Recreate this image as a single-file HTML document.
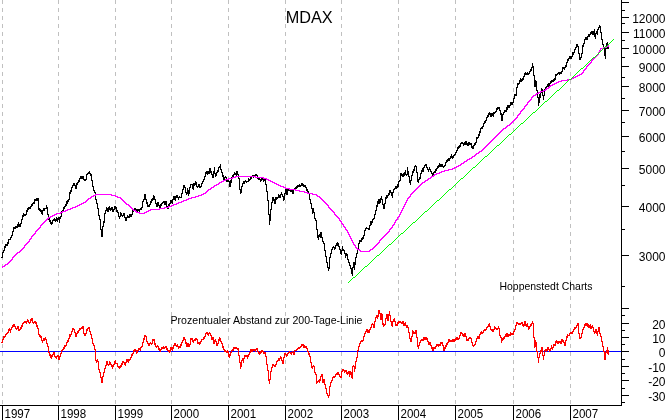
<!DOCTYPE html>
<html><head><meta charset="utf-8"><title>MDAX</title>
<style>
html,body{margin:0;padding:0;background:#fff;overflow:hidden}
svg{display:block}
text{font-family:"Liberation Sans",Arial,sans-serif;fill:#000}
.ax{font-size:12px}
.yr{font-size:12px}
.sm{font-size:11px}
</style></head><body>
<svg width="669" height="420" viewBox="0 0 669 420">
<rect width="669" height="420" fill="#fff"/>
<g stroke="#c0c0c0" stroke-width="1" stroke-dasharray="4 4" shape-rendering="crispEdges"><line x1="2.5" y1="0" x2="2.5" y2="405"/><line x1="58.5" y1="0" x2="58.5" y2="405"/><line x1="115.5" y1="0" x2="115.5" y2="405"/><line x1="171.5" y1="0" x2="171.5" y2="405"/><line x1="228.5" y1="0" x2="228.5" y2="405"/><line x1="285.5" y1="0" x2="285.5" y2="405"/><line x1="341.5" y1="0" x2="341.5" y2="405"/><line x1="398.5" y1="0" x2="398.5" y2="405"/><line x1="455.5" y1="0" x2="455.5" y2="405"/><line x1="513.5" y1="0" x2="513.5" y2="405"/><line x1="570.5" y1="0" x2="570.5" y2="405"/></g>
<path fill="#000" shape-rendering="crispEdges" d="M1 257h1v1h-1zM2 252h1v6h-1zM3 250h1v3h-1zM4 246h1v5h-1zM5 244h1v4h-1zM6 244h1v2h-1zM7 242h1v4h-1zM8 239h1v5h-1zM9 239h1v1h-1zM10 237h1v3h-1zM11 235h1v3h-1zM12 231h1v5h-1zM13 227h1v5h-1zM14 227h1v2h-1zM15 226h1v3h-1zM16 226h1v2h-1zM17 224h1v4h-1zM18 222h1v5h-1zM19 224h1v3h-1zM20 223h1v4h-1zM21 219h1v5h-1zM22 215h1v5h-1zM23 213h1v4h-1zM24 214h1v2h-1zM25 214h1v2h-1zM26 210h1v5h-1zM27 208h1v4h-1zM28 207h1v3h-1zM29 207h1v2h-1zM30 206h1v3h-1zM31 204h1v3h-1zM32 203h1v3h-1zM33 202h1v2h-1zM34 199h1v5h-1zM35 199h1v2h-1zM36 198h1v3h-1zM37 198h1v3h-1zM38 198h1v12h-1zM39 208h1v3h-1zM40 209h1v3h-1zM41 210h1v4h-1zM42 210h1v5h-1zM43 208h1v3h-1zM44 208h1v3h-1zM45 208h1v1h-1zM46 205h1v4h-1zM47 207h1v8h-1zM48 214h1v6h-1zM49 218h1v4h-1zM50 220h1v4h-1zM51 222h1v3h-1zM52 220h1v4h-1zM53 219h1v2h-1zM54 218h1v3h-1zM55 219h1v3h-1zM56 217h1v4h-1zM57 218h1v4h-1zM58 217h1v3h-1zM59 217h1v6h-1zM60 216h1v3h-1zM61 211h1v6h-1zM62 210h1v2h-1zM63 207h1v4h-1zM64 206h1v3h-1zM65 204h1v3h-1zM66 201h1v5h-1zM67 200h1v4h-1zM68 199h1v3h-1zM69 192h1v8h-1zM70 190h1v4h-1zM71 187h1v5h-1zM72 185h1v3h-1zM73 183h1v3h-1zM74 183h1v3h-1zM75 185h1v4h-1zM76 183h1v6h-1zM77 182h1v3h-1zM78 180h1v3h-1zM79 178h1v4h-1zM80 176h1v3h-1zM81 176h1v3h-1zM82 176h1v3h-1zM83 176h1v4h-1zM84 179h1v2h-1zM85 179h1v2h-1zM86 174h1v6h-1zM87 173h1v2h-1zM88 172h1v2h-1zM89 171h1v3h-1zM90 173h1v3h-1zM91 174h1v7h-1zM92 180h1v7h-1zM93 186h1v5h-1zM94 190h1v3h-1zM95 192h1v8h-1zM96 199h1v5h-1zM97 203h1v6h-1zM98 208h1v8h-1zM99 215h1v5h-1zM100 219h1v11h-1zM101 229h1v8h-1zM102 226h1v11h-1zM103 221h1v6h-1zM104 213h1v10h-1zM105 210h1v4h-1zM106 207h1v4h-1zM107 208h1v4h-1zM108 207h1v5h-1zM109 206h1v4h-1zM110 208h1v3h-1zM111 207h1v3h-1zM112 207h1v5h-1zM113 209h1v3h-1zM114 206h1v4h-1zM115 206h1v3h-1zM116 207h1v5h-1zM117 210h1v3h-1zM118 212h1v5h-1zM119 216h1v3h-1zM120 212h1v5h-1zM121 213h1v3h-1zM122 215h1v2h-1zM123 213h1v3h-1zM124 213h1v5h-1zM125 217h1v4h-1zM126 217h1v4h-1zM127 215h1v3h-1zM128 216h1v2h-1zM129 214h1v4h-1zM130 214h1v3h-1zM131 214h1v3h-1zM132 210h1v5h-1zM133 209h1v3h-1zM134 208h1v3h-1zM135 208h1v3h-1zM136 209h1v3h-1zM137 209h1v3h-1zM138 209h1v2h-1zM139 209h1v3h-1zM140 208h1v2h-1zM141 207h1v3h-1zM142 201h1v7h-1zM143 199h1v3h-1zM144 194h1v6h-1zM145 194h1v6h-1zM146 199h1v5h-1zM147 202h1v5h-1zM148 205h1v2h-1zM149 204h1v3h-1zM150 201h1v4h-1zM151 199h1v4h-1zM152 198h1v3h-1zM153 195h1v5h-1zM154 196h1v4h-1zM155 199h1v5h-1zM156 203h1v4h-1zM157 202h1v5h-1zM158 202h1v4h-1zM159 205h1v3h-1zM160 204h1v4h-1zM161 203h1v3h-1zM162 202h1v2h-1zM163 201h1v2h-1zM164 201h1v4h-1zM165 201h1v4h-1zM166 201h1v6h-1zM167 206h1v3h-1zM168 204h1v5h-1zM169 203h1v4h-1zM170 200h1v4h-1zM171 200h1v3h-1zM172 199h1v5h-1zM173 196h1v4h-1zM174 196h1v4h-1zM175 196h1v5h-1zM176 195h1v3h-1zM177 195h1v3h-1zM178 197h1v3h-1zM179 196h1v2h-1zM180 197h1v1h-1zM181 193h1v5h-1zM182 189h1v5h-1zM183 185h1v5h-1zM184 185h1v3h-1zM185 187h1v6h-1zM186 192h1v3h-1zM187 188h1v6h-1zM188 190h1v6h-1zM189 187h1v7h-1zM190 184h1v4h-1zM191 184h1v1h-1zM192 184h1v5h-1zM193 183h1v7h-1zM194 183h1v3h-1zM195 181h1v4h-1zM196 182h1v5h-1zM197 186h1v2h-1zM198 184h1v3h-1zM199 184h1v4h-1zM200 186h1v2h-1zM201 183h1v4h-1zM202 181h1v3h-1zM203 179h1v3h-1zM204 176h1v4h-1zM205 172h1v5h-1zM206 171h1v3h-1zM207 171h1v4h-1zM208 171h1v3h-1zM209 168h1v6h-1zM210 168h1v5h-1zM211 171h1v4h-1zM212 174h1v4h-1zM213 171h1v7h-1zM214 167h1v7h-1zM215 173h1v4h-1zM216 172h1v4h-1zM217 170h1v3h-1zM218 167h1v5h-1zM219 166h1v2h-1zM220 164h1v6h-1zM221 169h1v4h-1zM222 172h1v5h-1zM223 175h1v5h-1zM224 177h1v3h-1zM225 176h1v2h-1zM226 177h1v5h-1zM227 180h1v2h-1zM228 178h1v4h-1zM229 181h1v6h-1zM230 180h1v7h-1zM231 177h1v6h-1zM232 175h1v3h-1zM233 174h1v3h-1zM234 172h1v3h-1zM235 173h1v2h-1zM236 171h1v5h-1zM237 171h1v4h-1zM238 174h1v5h-1zM239 178h1v12h-1zM240 189h1v5h-1zM241 186h1v7h-1zM242 183h1v4h-1zM243 181h1v3h-1zM244 181h1v3h-1zM245 180h1v2h-1zM246 181h1v2h-1zM247 181h1v1h-1zM248 178h1v4h-1zM249 179h1v2h-1zM250 177h1v3h-1zM251 176h1v3h-1zM252 175h1v2h-1zM253 175h1v3h-1zM254 175h1v2h-1zM255 174h1v3h-1zM256 174h1v2h-1zM257 175h1v4h-1zM258 177h1v3h-1zM259 178h1v2h-1zM260 179h1v3h-1zM261 177h1v4h-1zM262 177h1v3h-1zM263 178h1v4h-1zM264 179h1v2h-1zM265 178h1v7h-1zM266 184h1v8h-1zM267 191h1v10h-1zM268 200h1v15h-1zM269 214h1v11h-1zM270 209h1v12h-1zM271 202h1v8h-1zM272 197h1v6h-1zM273 197h1v4h-1zM274 199h1v5h-1zM275 197h1v7h-1zM276 197h1v3h-1zM277 197h1v2h-1zM278 194h1v4h-1zM279 195h1v3h-1zM280 194h1v4h-1zM281 192h1v3h-1zM282 194h1v3h-1zM283 196h1v5h-1zM284 193h1v7h-1zM285 189h1v5h-1zM286 189h1v6h-1zM287 189h1v6h-1zM288 189h1v2h-1zM289 188h1v3h-1zM290 190h1v2h-1zM291 189h1v3h-1zM292 190h1v4h-1zM293 189h1v5h-1zM294 188h1v2h-1zM295 187h1v2h-1zM296 186h1v3h-1zM297 185h1v3h-1zM298 185h1v2h-1zM299 184h1v3h-1zM300 185h1v2h-1zM301 183h1v3h-1zM302 183h1v3h-1zM303 184h1v3h-1zM304 185h1v2h-1zM305 185h1v3h-1zM306 187h1v4h-1zM307 189h1v3h-1zM308 191h1v3h-1zM309 193h1v7h-1zM310 199h1v5h-1zM311 203h1v6h-1zM312 208h1v6h-1zM313 208h1v5h-1zM314 212h1v7h-1zM315 218h1v3h-1zM316 220h1v10h-1zM317 229h1v9h-1zM318 235h1v5h-1zM319 234h1v3h-1zM320 232h1v6h-1zM321 232h1v6h-1zM322 237h1v5h-1zM323 241h1v3h-1zM324 243h1v8h-1zM325 250h1v7h-1zM326 256h1v7h-1zM327 262h1v6h-1zM328 267h1v4h-1zM329 257h1v12h-1zM330 253h1v5h-1zM331 249h1v5h-1zM332 247h1v3h-1zM333 246h1v2h-1zM334 247h1v3h-1zM335 245h1v4h-1zM336 243h1v3h-1zM337 242h1v4h-1zM338 243h1v4h-1zM339 246h1v4h-1zM340 249h1v5h-1zM341 250h1v5h-1zM342 246h1v5h-1zM343 249h1v2h-1zM344 250h1v4h-1zM345 253h1v5h-1zM346 253h1v3h-1zM347 254h1v6h-1zM348 259h1v4h-1zM349 262h1v4h-1zM350 265h1v4h-1zM351 268h1v6h-1zM352 267h1v9h-1zM353 262h1v6h-1zM354 262h1v8h-1zM355 257h1v8h-1zM356 253h1v5h-1zM357 249h1v5h-1zM358 243h1v7h-1zM359 240h1v4h-1zM360 240h1v2h-1zM361 238h1v4h-1zM362 237h1v3h-1zM363 235h1v4h-1zM364 230h1v6h-1zM365 228h1v3h-1zM366 227h1v2h-1zM367 228h1v1h-1zM368 228h1v2h-1zM369 225h1v5h-1zM370 221h1v5h-1zM371 221h1v4h-1zM372 219h1v4h-1zM373 218h1v2h-1zM374 214h1v5h-1zM375 210h1v5h-1zM376 205h1v6h-1zM377 201h1v6h-1zM378 199h1v5h-1zM379 199h1v5h-1zM380 198h1v5h-1zM381 196h1v4h-1zM382 199h1v6h-1zM383 204h1v5h-1zM384 203h1v6h-1zM385 197h1v7h-1zM386 195h1v4h-1zM387 195h1v3h-1zM388 193h1v3h-1zM389 190h1v5h-1zM390 190h1v3h-1zM391 192h1v4h-1zM392 192h1v6h-1zM393 189h1v4h-1zM394 188h1v2h-1zM395 186h1v3h-1zM396 186h1v3h-1zM397 184h1v4h-1zM398 181h1v6h-1zM399 180h1v2h-1zM400 173h1v8h-1zM401 173h1v3h-1zM402 174h1v3h-1zM403 173h1v4h-1zM404 172h1v4h-1zM405 170h1v5h-1zM406 174h1v2h-1zM407 167h1v8h-1zM408 171h1v6h-1zM409 176h1v7h-1zM410 180h1v5h-1zM411 175h1v6h-1zM412 171h1v5h-1zM413 169h1v4h-1zM414 166h1v5h-1zM415 165h1v2h-1zM416 166h1v7h-1zM417 172h1v10h-1zM418 179h1v4h-1zM419 177h1v3h-1zM420 173h1v6h-1zM421 170h1v4h-1zM422 168h1v4h-1zM423 167h1v5h-1zM424 165h1v3h-1zM425 164h1v2h-1zM426 164h1v4h-1zM427 167h1v3h-1zM428 169h1v3h-1zM429 167h1v3h-1zM430 169h1v3h-1zM431 171h1v3h-1zM432 173h1v3h-1zM433 172h1v4h-1zM434 171h1v2h-1zM435 169h1v4h-1zM436 168h1v3h-1zM437 166h1v3h-1zM438 165h1v3h-1zM439 163h1v4h-1zM440 164h1v3h-1zM441 164h1v3h-1zM442 164h1v3h-1zM443 166h1v2h-1zM444 165h1v2h-1zM445 162h1v4h-1zM446 160h1v3h-1zM447 159h1v3h-1zM448 158h1v3h-1zM449 158h1v3h-1zM450 156h1v3h-1zM451 154h1v4h-1zM452 156h1v3h-1zM453 155h1v3h-1zM454 154h1v2h-1zM455 152h1v3h-1zM456 150h1v3h-1zM457 147h1v4h-1zM458 146h1v3h-1zM459 145h1v3h-1zM460 143h1v4h-1zM461 142h1v2h-1zM462 142h1v2h-1zM463 143h1v3h-1zM464 142h1v3h-1zM465 141h1v4h-1zM466 141h1v4h-1zM467 143h1v3h-1zM468 142h1v4h-1zM469 142h1v3h-1zM470 143h1v2h-1zM471 143h1v5h-1zM472 146h1v3h-1zM473 145h1v4h-1zM474 143h1v3h-1zM475 142h1v3h-1zM476 137h1v6h-1zM477 137h1v2h-1zM478 134h1v4h-1zM479 131h1v5h-1zM480 128h1v5h-1zM481 127h1v2h-1zM482 126h1v3h-1zM483 123h1v4h-1zM484 121h1v3h-1zM485 120h1v3h-1zM486 117h1v4h-1zM487 115h1v3h-1zM488 113h1v4h-1zM489 112h1v3h-1zM490 113h1v4h-1zM491 113h1v4h-1zM492 113h1v3h-1zM493 112h1v5h-1zM494 112h1v2h-1zM495 111h1v2h-1zM496 108h1v4h-1zM497 107h1v3h-1zM498 107h1v2h-1zM499 107h1v4h-1zM500 110h1v5h-1zM501 113h1v8h-1zM502 114h1v7h-1zM503 112h1v3h-1zM504 110h1v3h-1zM505 110h1v2h-1zM506 107h1v5h-1zM507 105h1v5h-1zM508 105h1v3h-1zM509 105h1v3h-1zM510 102h1v4h-1zM511 102h1v3h-1zM512 102h1v3h-1zM513 98h1v5h-1zM514 94h1v5h-1zM515 94h1v2h-1zM516 87h1v9h-1zM517 83h1v5h-1zM518 83h1v2h-1zM519 80h1v4h-1zM520 78h1v4h-1zM521 79h1v3h-1zM522 78h1v3h-1zM523 76h1v4h-1zM524 73h1v4h-1zM525 72h1v3h-1zM526 73h1v2h-1zM527 72h1v3h-1zM528 73h1v2h-1zM529 71h1v3h-1zM530 69h1v3h-1zM531 67h1v4h-1zM532 63h1v5h-1zM533 66h1v10h-1zM534 75h1v12h-1zM535 80h1v7h-1zM536 81h1v10h-1zM537 90h1v8h-1zM538 97h1v9h-1zM539 94h1v9h-1zM540 92h1v6h-1zM541 88h1v5h-1zM542 89h1v7h-1zM543 95h1v5h-1zM544 89h1v7h-1zM545 87h1v3h-1zM546 86h1v3h-1zM547 84h1v3h-1zM548 83h1v4h-1zM549 83h1v4h-1zM550 81h1v3h-1zM551 80h1v3h-1zM552 80h1v2h-1zM553 79h1v3h-1zM554 78h1v3h-1zM555 74h1v6h-1zM556 74h1v2h-1zM557 73h1v2h-1zM558 72h1v2h-1zM559 72h1v3h-1zM560 72h1v2h-1zM561 71h1v3h-1zM562 67h1v5h-1zM563 67h1v2h-1zM564 67h1v3h-1zM565 65h1v3h-1zM566 62h1v5h-1zM567 59h1v4h-1zM568 58h1v3h-1zM569 56h1v3h-1zM570 56h1v3h-1zM571 56h1v3h-1zM572 52h1v5h-1zM573 52h1v3h-1zM574 49h1v4h-1zM575 47h1v3h-1zM576 44h1v4h-1zM577 44h1v3h-1zM578 46h1v8h-1zM579 53h1v7h-1zM580 57h1v3h-1zM581 53h1v5h-1zM582 45h1v9h-1zM583 43h1v4h-1zM584 39h1v5h-1zM585 37h1v3h-1zM586 37h1v3h-1zM587 36h1v4h-1zM588 34h1v3h-1zM589 34h1v3h-1zM590 32h1v3h-1zM591 31h1v3h-1zM592 31h1v4h-1zM593 31h1v4h-1zM594 29h1v8h-1zM595 33h1v6h-1zM596 31h1v3h-1zM597 29h1v6h-1zM598 27h1v3h-1zM599 25h1v3h-1zM600 26h1v7h-1zM601 32h1v8h-1zM602 39h1v6h-1zM603 44h1v5h-1zM604 48h1v8h-1zM605 48h1v11h-1zM606 43h1v6h-1zM607 42h1v7h-1zM608 45h1v4h-1z"/>
<path fill="#ff00ff" shape-rendering="crispEdges" d="M2 266h1v2h-1zM3 266h1v1h-1zM4 265h1v2h-1zM5 264h1v2h-1zM6 264h1v1h-1zM7 263h1v2h-1zM8 262h1v2h-1zM9 261h1v2h-1zM10 260h1v2h-1zM11 259h1v2h-1zM12 257h1v3h-1zM13 256h1v2h-1zM14 255h1v2h-1zM15 254h1v2h-1zM16 253h1v2h-1zM17 252h1v2h-1zM18 252h1v1h-1zM19 251h1v2h-1zM20 250h1v2h-1zM21 249h1v2h-1zM22 248h1v2h-1zM23 247h1v2h-1zM24 245h1v3h-1zM25 244h1v2h-1zM26 243h1v2h-1zM27 242h1v2h-1zM28 241h1v2h-1zM29 239h1v3h-1zM30 238h1v2h-1zM31 236h1v3h-1zM32 235h1v2h-1zM33 234h1v2h-1zM34 233h1v2h-1zM35 231h1v3h-1zM36 230h1v2h-1zM37 229h1v2h-1zM38 228h1v2h-1zM39 227h1v2h-1zM40 225h1v3h-1zM41 224h1v2h-1zM42 223h1v2h-1zM43 222h1v2h-1zM44 221h1v2h-1zM45 220h1v2h-1zM46 219h1v2h-1zM47 218h1v2h-1zM48 217h1v2h-1zM49 217h1v1h-1zM50 216h1v2h-1zM51 216h1v1h-1zM52 215h1v2h-1zM53 215h1v1h-1zM54 214h1v2h-1zM55 214h1v1h-1zM56 213h1v2h-1zM57 213h1v1h-1zM58 213h1v1h-1zM59 213h1v1h-1zM60 212h1v2h-1zM61 212h1v1h-1zM62 211h1v2h-1zM63 211h1v1h-1zM64 211h1v1h-1zM65 210h1v2h-1zM66 210h1v1h-1zM67 209h1v2h-1zM68 209h1v1h-1zM69 209h1v1h-1zM70 208h1v2h-1zM71 208h1v1h-1zM72 207h1v2h-1zM73 207h1v1h-1zM74 207h1v1h-1zM75 206h1v2h-1zM76 206h1v1h-1zM77 205h1v2h-1zM78 205h1v1h-1zM79 204h1v2h-1zM80 204h1v1h-1zM81 203h1v2h-1zM82 203h1v1h-1zM83 202h1v2h-1zM84 202h1v1h-1zM85 201h1v2h-1zM86 200h1v2h-1zM87 199h1v2h-1zM88 198h1v2h-1zM89 198h1v1h-1zM90 197h1v2h-1zM91 196h1v2h-1zM92 196h1v1h-1zM93 195h1v2h-1zM94 195h1v1h-1zM95 194h1v2h-1zM96 194h1v1h-1zM97 194h1v1h-1zM98 194h1v1h-1zM99 194h1v1h-1zM100 194h1v1h-1zM101 194h1v1h-1zM102 194h1v1h-1zM103 194h1v1h-1zM104 194h1v1h-1zM105 194h1v1h-1zM106 194h1v1h-1zM107 194h1v1h-1zM108 194h1v1h-1zM109 194h1v1h-1zM110 194h1v1h-1zM111 194h1v2h-1zM112 195h1v1h-1zM113 195h1v1h-1zM114 195h1v1h-1zM115 195h1v2h-1zM116 196h1v1h-1zM117 196h1v2h-1zM118 197h1v1h-1zM119 197h1v1h-1zM120 197h1v2h-1zM121 198h1v2h-1zM122 199h1v2h-1zM123 200h1v2h-1zM124 201h1v2h-1zM125 202h1v2h-1zM126 203h1v2h-1zM127 204h1v1h-1zM128 204h1v2h-1zM129 205h1v2h-1zM130 206h1v2h-1zM131 207h1v2h-1zM132 208h1v2h-1zM133 209h1v2h-1zM134 210h1v1h-1zM135 210h1v2h-1zM136 211h1v2h-1zM137 212h1v1h-1zM138 212h1v1h-1zM139 212h1v2h-1zM140 213h1v1h-1zM141 213h1v1h-1zM142 213h1v1h-1zM143 213h1v1h-1zM144 212h1v2h-1zM145 212h1v1h-1zM146 211h1v2h-1zM147 211h1v1h-1zM148 210h1v2h-1zM149 210h1v1h-1zM150 209h1v2h-1zM151 209h1v1h-1zM152 209h1v1h-1zM153 209h1v1h-1zM154 209h1v1h-1zM155 209h1v1h-1zM156 209h1v1h-1zM157 209h1v1h-1zM158 209h1v1h-1zM159 208h1v2h-1zM160 208h1v1h-1zM161 208h1v1h-1zM162 208h1v1h-1zM163 208h1v1h-1zM164 207h1v2h-1zM165 207h1v1h-1zM166 207h1v1h-1zM167 207h1v1h-1zM168 206h1v2h-1zM169 206h1v1h-1zM170 206h1v1h-1zM171 205h1v2h-1zM172 205h1v1h-1zM173 204h1v2h-1zM174 204h1v1h-1zM175 204h1v1h-1zM176 203h1v2h-1zM177 203h1v1h-1zM178 202h1v2h-1zM179 202h1v1h-1zM180 202h1v1h-1zM181 201h1v2h-1zM182 201h1v1h-1zM183 200h1v2h-1zM184 200h1v1h-1zM185 200h1v1h-1zM186 199h1v2h-1zM187 199h1v1h-1zM188 198h1v2h-1zM189 198h1v1h-1zM190 198h1v1h-1zM191 197h1v2h-1zM192 197h1v1h-1zM193 197h1v1h-1zM194 197h1v1h-1zM195 196h1v2h-1zM196 196h1v1h-1zM197 196h1v1h-1zM198 195h1v2h-1zM199 195h1v1h-1zM200 195h1v1h-1zM201 194h1v2h-1zM202 194h1v1h-1zM203 193h1v2h-1zM204 193h1v1h-1zM205 192h1v2h-1zM206 191h1v2h-1zM207 190h1v2h-1zM208 189h1v2h-1zM209 189h1v1h-1zM210 188h1v2h-1zM211 187h1v2h-1zM212 187h1v1h-1zM213 186h1v2h-1zM214 185h1v2h-1zM215 185h1v1h-1zM216 184h1v2h-1zM217 184h1v1h-1zM218 183h1v2h-1zM219 182h1v2h-1zM220 182h1v1h-1zM221 181h1v2h-1zM222 181h1v1h-1zM223 180h1v2h-1zM224 180h1v1h-1zM225 179h1v2h-1zM226 179h1v1h-1zM227 179h1v1h-1zM228 178h1v2h-1zM229 178h1v1h-1zM230 178h1v1h-1zM231 178h1v1h-1zM232 177h1v2h-1zM233 177h1v1h-1zM234 177h1v1h-1zM235 176h1v2h-1zM236 176h1v1h-1zM237 176h1v1h-1zM238 176h1v1h-1zM239 176h1v1h-1zM240 176h1v1h-1zM241 176h1v1h-1zM242 176h1v1h-1zM243 176h1v1h-1zM244 176h1v1h-1zM245 176h1v1h-1zM246 176h1v1h-1zM247 176h1v1h-1zM248 176h1v1h-1zM249 176h1v1h-1zM250 176h1v1h-1zM251 176h1v1h-1zM252 176h1v1h-1zM253 176h1v1h-1zM254 176h1v1h-1zM255 176h1v2h-1zM256 177h1v1h-1zM257 177h1v1h-1zM258 177h1v1h-1zM259 177h1v1h-1zM260 177h1v1h-1zM261 177h1v1h-1zM262 177h1v1h-1zM263 177h1v2h-1zM264 178h1v1h-1zM265 178h1v1h-1zM266 178h1v2h-1zM267 179h1v1h-1zM268 179h1v2h-1zM269 180h1v1h-1zM270 180h1v2h-1zM271 181h1v1h-1zM272 181h1v2h-1zM273 182h1v1h-1zM274 182h1v2h-1zM275 183h1v1h-1zM276 183h1v2h-1zM277 184h1v1h-1zM278 184h1v2h-1zM279 185h1v1h-1zM280 185h1v2h-1zM281 186h1v1h-1zM282 186h1v1h-1zM283 186h1v2h-1zM284 187h1v1h-1zM285 187h1v2h-1zM286 188h1v1h-1zM287 188h1v1h-1zM288 188h1v1h-1zM289 188h1v2h-1zM290 189h1v1h-1zM291 189h1v1h-1zM292 189h1v1h-1zM293 189h1v1h-1zM294 189h1v1h-1zM295 189h1v2h-1zM296 190h1v1h-1zM297 190h1v1h-1zM298 190h1v1h-1zM299 190h1v2h-1zM300 191h1v1h-1zM301 191h1v1h-1zM302 191h1v1h-1zM303 191h1v1h-1zM304 191h1v2h-1zM305 192h1v1h-1zM306 192h1v1h-1zM307 192h1v2h-1zM308 193h1v1h-1zM309 193h1v1h-1zM310 193h1v1h-1zM311 193h1v1h-1zM312 193h1v2h-1zM313 194h1v1h-1zM314 194h1v1h-1zM315 194h1v1h-1zM316 194h1v2h-1zM317 195h1v2h-1zM318 196h1v1h-1zM319 196h1v2h-1zM320 197h1v2h-1zM321 198h1v2h-1zM322 199h1v2h-1zM323 200h1v2h-1zM324 201h1v2h-1zM325 202h1v2h-1zM326 203h1v2h-1zM327 204h1v2h-1zM328 205h1v3h-1zM329 207h1v2h-1zM330 208h1v2h-1zM331 209h1v2h-1zM332 210h1v2h-1zM333 211h1v2h-1zM334 212h1v3h-1zM335 214h1v2h-1zM336 215h1v2h-1zM337 216h1v2h-1zM338 217h1v2h-1zM339 218h1v3h-1zM340 220h1v2h-1zM341 221h1v3h-1zM342 223h1v2h-1zM343 224h1v3h-1zM344 226h1v2h-1zM345 227h1v3h-1zM346 229h1v2h-1zM347 230h1v3h-1zM348 232h1v3h-1zM349 234h1v3h-1zM350 236h1v3h-1zM351 238h1v3h-1zM352 240h1v3h-1zM353 242h1v3h-1zM354 244h1v2h-1zM355 245h1v3h-1zM356 247h1v2h-1zM357 248h1v2h-1zM358 249h1v1h-1zM359 249h1v2h-1zM360 250h1v2h-1zM361 251h1v1h-1zM362 251h1v1h-1zM363 251h1v1h-1zM364 251h1v1h-1zM365 251h1v1h-1zM366 251h1v1h-1zM367 251h1v1h-1zM368 251h1v1h-1zM369 250h1v2h-1zM370 249h1v2h-1zM371 249h1v1h-1zM372 248h1v2h-1zM373 247h1v2h-1zM374 246h1v2h-1zM375 245h1v2h-1zM376 244h1v2h-1zM377 243h1v2h-1zM378 242h1v2h-1zM379 240h1v3h-1zM380 239h1v2h-1zM381 238h1v2h-1zM382 237h1v2h-1zM383 236h1v2h-1zM384 235h1v2h-1zM385 234h1v2h-1zM386 233h1v2h-1zM387 232h1v2h-1zM388 231h1v2h-1zM389 229h1v3h-1zM390 228h1v2h-1zM391 227h1v2h-1zM392 225h1v3h-1zM393 224h1v2h-1zM394 222h1v3h-1zM395 220h1v3h-1zM396 219h1v2h-1zM397 217h1v3h-1zM398 216h1v2h-1zM399 214h1v3h-1zM400 212h1v3h-1zM401 210h1v3h-1zM402 208h1v3h-1zM403 206h1v3h-1zM404 204h1v3h-1zM405 202h1v3h-1zM406 200h1v3h-1zM407 198h1v3h-1zM408 197h1v2h-1zM409 196h1v2h-1zM410 194h1v3h-1zM411 193h1v2h-1zM412 192h1v2h-1zM413 191h1v2h-1zM414 190h1v2h-1zM415 189h1v2h-1zM416 188h1v2h-1zM417 187h1v2h-1zM418 186h1v2h-1zM419 185h1v2h-1zM420 184h1v2h-1zM421 183h1v2h-1zM422 182h1v2h-1zM423 182h1v1h-1zM424 181h1v2h-1zM425 180h1v2h-1zM426 180h1v1h-1zM427 179h1v2h-1zM428 178h1v2h-1zM429 178h1v1h-1zM430 177h1v2h-1zM431 176h1v2h-1zM432 176h1v1h-1zM433 175h1v2h-1zM434 174h1v2h-1zM435 174h1v1h-1zM436 173h1v2h-1zM437 173h1v1h-1zM438 173h1v1h-1zM439 172h1v2h-1zM440 172h1v1h-1zM441 171h1v2h-1zM442 171h1v1h-1zM443 171h1v1h-1zM444 170h1v2h-1zM445 170h1v1h-1zM446 170h1v1h-1zM447 170h1v1h-1zM448 169h1v2h-1zM449 169h1v1h-1zM450 169h1v1h-1zM451 169h1v1h-1zM452 168h1v2h-1zM453 168h1v1h-1zM454 167h1v2h-1zM455 167h1v1h-1zM456 166h1v2h-1zM457 166h1v1h-1zM458 165h1v2h-1zM459 165h1v1h-1zM460 164h1v2h-1zM461 163h1v2h-1zM462 163h1v1h-1zM463 162h1v2h-1zM464 161h1v2h-1zM465 161h1v1h-1zM466 160h1v2h-1zM467 159h1v2h-1zM468 159h1v1h-1zM469 158h1v2h-1zM470 158h1v1h-1zM471 157h1v2h-1zM472 156h1v2h-1zM473 156h1v1h-1zM474 155h1v2h-1zM475 154h1v2h-1zM476 153h1v2h-1zM477 153h1v1h-1zM478 152h1v2h-1zM479 151h1v2h-1zM480 151h1v1h-1zM481 150h1v2h-1zM482 149h1v2h-1zM483 148h1v2h-1zM484 147h1v2h-1zM485 146h1v2h-1zM486 145h1v2h-1zM487 144h1v2h-1zM488 143h1v2h-1zM489 142h1v2h-1zM490 141h1v2h-1zM491 140h1v2h-1zM492 139h1v2h-1zM493 138h1v2h-1zM494 137h1v2h-1zM495 136h1v2h-1zM496 135h1v2h-1zM497 134h1v2h-1zM498 133h1v2h-1zM499 132h1v2h-1zM500 131h1v2h-1zM501 130h1v2h-1zM502 129h1v2h-1zM503 128h1v2h-1zM504 128h1v1h-1zM505 127h1v2h-1zM506 126h1v2h-1zM507 125h1v2h-1zM508 125h1v1h-1zM509 124h1v2h-1zM510 123h1v2h-1zM511 122h1v2h-1zM512 121h1v2h-1zM513 120h1v2h-1zM514 119h1v2h-1zM515 118h1v2h-1zM516 117h1v2h-1zM517 115h1v3h-1zM518 114h1v2h-1zM519 113h1v2h-1zM520 111h1v3h-1zM521 110h1v2h-1zM522 109h1v2h-1zM523 108h1v2h-1zM524 106h1v3h-1zM525 105h1v2h-1zM526 104h1v2h-1zM527 102h1v3h-1zM528 101h1v2h-1zM529 100h1v2h-1zM530 99h1v2h-1zM531 97h1v3h-1zM532 96h1v2h-1zM533 95h1v2h-1zM534 95h1v1h-1zM535 94h1v2h-1zM536 93h1v2h-1zM537 93h1v1h-1zM538 92h1v2h-1zM539 92h1v1h-1zM540 91h1v2h-1zM541 91h1v1h-1zM542 91h1v1h-1zM543 90h1v2h-1zM544 90h1v1h-1zM545 89h1v2h-1zM546 88h1v2h-1zM547 88h1v1h-1zM548 87h1v2h-1zM549 86h1v2h-1zM550 85h1v2h-1zM551 85h1v1h-1zM552 84h1v2h-1zM553 84h1v1h-1zM554 83h1v2h-1zM555 83h1v1h-1zM556 82h1v2h-1zM557 82h1v1h-1zM558 81h1v2h-1zM559 81h1v1h-1zM560 81h1v1h-1zM561 80h1v2h-1zM562 80h1v1h-1zM563 80h1v1h-1zM564 80h1v1h-1zM565 80h1v1h-1zM566 80h1v1h-1zM567 79h1v2h-1zM568 79h1v1h-1zM569 79h1v1h-1zM570 79h1v1h-1zM571 78h1v2h-1zM572 78h1v1h-1zM573 77h1v2h-1zM574 77h1v1h-1zM575 76h1v2h-1zM576 76h1v1h-1zM577 75h1v2h-1zM578 75h1v1h-1zM579 74h1v2h-1zM580 74h1v1h-1zM581 73h1v2h-1zM582 72h1v2h-1zM583 70h1v3h-1zM584 69h1v2h-1zM585 68h1v2h-1zM586 66h1v3h-1zM587 65h1v2h-1zM588 64h1v2h-1zM589 63h1v2h-1zM590 62h1v2h-1zM591 60h1v3h-1zM592 59h1v2h-1zM593 58h1v2h-1zM594 57h1v2h-1zM595 56h1v2h-1zM596 55h1v2h-1zM597 54h1v2h-1zM598 52h1v3h-1zM599 50h1v3h-1zM600 48h1v3h-1zM601 48h1v1h-1zM602 48h1v1h-1zM603 47h1v2h-1zM604 47h1v1h-1zM605 47h1v1h-1zM606 46h1v2h-1zM607 46h1v1h-1zM608 45h1v2h-1z"/>
<path fill="#00ff00" shape-rendering="crispEdges" d="M348 282h1v1h-1zM349 281h1v1h-1zM350 280h1v1h-1zM351 279h1v1h-1zM352 278h1v1h-1zM353 277h1v1h-1zM354 277h1v1h-1zM355 276h1v1h-1zM356 275h1v1h-1zM357 274h1v1h-1zM358 273h1v1h-1zM359 272h1v1h-1zM360 271h1v1h-1zM361 270h1v1h-1zM362 269h1v1h-1zM363 268h1v1h-1zM364 267h1v1h-1zM365 266h1v1h-1zM366 266h1v1h-1zM367 265h1v1h-1zM368 264h1v1h-1zM369 263h1v1h-1zM370 262h1v1h-1zM371 261h1v1h-1zM372 260h1v1h-1zM373 259h1v1h-1zM374 258h1v1h-1zM375 257h1v1h-1zM376 256h1v1h-1zM377 255h1v1h-1zM378 255h1v1h-1zM379 254h1v1h-1zM380 253h1v1h-1zM381 252h1v1h-1zM382 251h1v1h-1zM383 250h1v1h-1zM384 249h1v1h-1zM385 248h1v1h-1zM386 247h1v1h-1zM387 246h1v1h-1zM388 245h1v1h-1zM389 244h1v1h-1zM390 244h1v1h-1zM391 243h1v1h-1zM392 242h1v1h-1zM393 241h1v1h-1zM394 240h1v1h-1zM395 239h1v1h-1zM396 238h1v1h-1zM397 237h1v1h-1zM398 236h1v1h-1zM399 235h1v1h-1zM400 234h1v1h-1zM401 233h1v1h-1zM402 233h1v1h-1zM403 232h1v1h-1zM404 231h1v1h-1zM405 230h1v1h-1zM406 229h1v1h-1zM407 228h1v1h-1zM408 227h1v1h-1zM409 226h1v1h-1zM410 225h1v1h-1zM411 224h1v1h-1zM412 223h1v1h-1zM413 222h1v1h-1zM414 222h1v1h-1zM415 221h1v1h-1zM416 220h1v1h-1zM417 219h1v1h-1zM418 218h1v1h-1zM419 217h1v1h-1zM420 216h1v1h-1zM421 215h1v1h-1zM422 214h1v1h-1zM423 213h1v1h-1zM424 212h1v1h-1zM425 211h1v1h-1zM426 211h1v1h-1zM427 210h1v1h-1zM428 209h1v1h-1zM429 208h1v1h-1zM430 207h1v1h-1zM431 206h1v1h-1zM432 205h1v1h-1zM433 204h1v1h-1zM434 203h1v1h-1zM435 202h1v1h-1zM436 201h1v1h-1zM437 200h1v1h-1zM438 200h1v1h-1zM439 199h1v1h-1zM440 198h1v1h-1zM441 197h1v1h-1zM442 196h1v1h-1zM443 195h1v1h-1zM444 194h1v1h-1zM445 193h1v1h-1zM446 192h1v1h-1zM447 191h1v1h-1zM448 190h1v1h-1zM449 189h1v1h-1zM450 189h1v1h-1zM451 188h1v1h-1zM452 187h1v1h-1zM453 186h1v1h-1zM454 185h1v1h-1zM455 184h1v1h-1zM456 183h1v1h-1zM457 182h1v1h-1zM458 181h1v1h-1zM459 180h1v1h-1zM460 179h1v1h-1zM461 178h1v1h-1zM462 178h1v1h-1zM463 177h1v1h-1zM464 176h1v1h-1zM465 175h1v1h-1zM466 174h1v1h-1zM467 173h1v1h-1zM468 172h1v1h-1zM469 171h1v1h-1zM470 170h1v1h-1zM471 169h1v1h-1zM472 168h1v1h-1zM473 167h1v1h-1zM474 167h1v1h-1zM475 166h1v1h-1zM476 165h1v1h-1zM477 164h1v1h-1zM478 163h1v1h-1zM479 162h1v1h-1zM480 161h1v1h-1zM481 160h1v1h-1zM482 159h1v1h-1zM483 158h1v1h-1zM484 157h1v1h-1zM485 156h1v1h-1zM486 156h1v1h-1zM487 155h1v1h-1zM488 154h1v1h-1zM489 153h1v1h-1zM490 152h1v1h-1zM491 151h1v1h-1zM492 150h1v1h-1zM493 149h1v1h-1zM494 148h1v1h-1zM495 147h1v1h-1zM496 146h1v1h-1zM497 145h1v1h-1zM498 145h1v1h-1zM499 144h1v1h-1zM500 143h1v1h-1zM501 142h1v1h-1zM502 141h1v1h-1zM503 140h1v1h-1zM504 139h1v1h-1zM505 138h1v1h-1zM506 137h1v1h-1zM507 136h1v1h-1zM508 135h1v1h-1zM509 134h1v1h-1zM510 134h1v1h-1zM511 133h1v1h-1zM512 132h1v1h-1zM513 131h1v1h-1zM514 130h1v1h-1zM515 129h1v1h-1zM516 128h1v1h-1zM517 127h1v1h-1zM518 126h1v1h-1zM519 125h1v1h-1zM520 124h1v1h-1zM521 123h1v1h-1zM522 123h1v1h-1zM523 122h1v1h-1zM524 121h1v1h-1zM525 120h1v1h-1zM526 119h1v1h-1zM527 118h1v1h-1zM528 117h1v1h-1zM529 116h1v1h-1zM530 115h1v1h-1zM531 114h1v1h-1zM532 113h1v1h-1zM533 112h1v1h-1zM534 112h1v1h-1zM535 111h1v1h-1zM536 110h1v1h-1zM537 109h1v1h-1zM538 108h1v1h-1zM539 107h1v1h-1zM540 106h1v1h-1zM541 105h1v1h-1zM542 104h1v1h-1zM543 103h1v1h-1zM544 102h1v1h-1zM545 101h1v1h-1zM546 101h1v1h-1zM547 100h1v1h-1zM548 99h1v1h-1zM549 98h1v1h-1zM550 97h1v1h-1zM551 96h1v1h-1zM552 95h1v1h-1zM553 94h1v1h-1zM554 93h1v1h-1zM555 92h1v1h-1zM556 91h1v1h-1zM557 90h1v1h-1zM558 90h1v1h-1zM559 89h1v1h-1zM560 88h1v1h-1zM561 87h1v1h-1zM562 86h1v1h-1zM563 85h1v1h-1zM564 84h1v1h-1zM565 83h1v1h-1zM566 82h1v1h-1zM567 81h1v1h-1zM568 80h1v1h-1zM569 79h1v1h-1zM570 79h1v1h-1zM571 78h1v1h-1zM572 77h1v1h-1zM573 76h1v1h-1zM574 75h1v1h-1zM575 74h1v1h-1zM576 73h1v1h-1zM577 72h1v1h-1zM578 71h1v1h-1zM579 70h1v1h-1zM580 69h1v1h-1zM581 68h1v1h-1zM582 68h1v1h-1zM583 67h1v1h-1zM584 66h1v1h-1zM585 65h1v1h-1zM586 64h1v1h-1zM587 63h1v1h-1zM588 62h1v1h-1zM589 61h1v1h-1zM590 60h1v1h-1zM591 59h1v1h-1zM592 58h1v1h-1zM593 57h1v1h-1zM594 57h1v1h-1zM595 56h1v1h-1zM596 55h1v1h-1zM597 54h1v1h-1zM598 53h1v1h-1zM599 52h1v1h-1zM600 51h1v1h-1zM601 50h1v1h-1zM602 49h1v1h-1zM603 48h1v1h-1zM604 47h1v1h-1zM605 46h1v1h-1zM606 46h1v1h-1zM607 45h1v1h-1zM608 44h1v1h-1zM609 43h1v1h-1zM610 42h1v1h-1zM611 41h1v1h-1zM612 40h1v1h-1zM613 39h1v1h-1z"/>
<line x1="0" y1="351.5" x2="621" y2="351.5" stroke="#0000ff" stroke-width="1" shape-rendering="crispEdges"/>
<path fill="#ff0000" shape-rendering="crispEdges" d="M1 342h1v1h-1zM2 339h1v4h-1zM3 336h1v4h-1zM4 336h1v2h-1zM5 334h1v3h-1zM6 333h1v2h-1zM7 332h1v2h-1zM8 329h1v4h-1zM9 328h1v3h-1zM10 329h1v4h-1zM11 327h1v3h-1zM12 325h1v3h-1zM13 324h1v3h-1zM14 324h1v3h-1zM15 326h1v3h-1zM16 328h1v2h-1zM17 326h1v3h-1zM18 326h1v5h-1zM19 329h1v2h-1zM20 327h1v3h-1zM21 325h1v4h-1zM22 323h1v4h-1zM23 322h1v2h-1zM24 321h1v2h-1zM25 321h1v2h-1zM26 321h1v3h-1zM27 319h1v3h-1zM28 320h1v3h-1zM29 322h1v2h-1zM30 319h1v4h-1zM31 318h1v3h-1zM32 318h1v5h-1zM33 322h1v2h-1zM34 321h1v2h-1zM35 321h1v3h-1zM36 322h1v5h-1zM37 325h1v4h-1zM38 328h1v7h-1zM39 334h1v3h-1zM40 335h1v3h-1zM41 336h1v5h-1zM42 340h1v3h-1zM43 338h1v3h-1zM44 338h1v3h-1zM45 337h1v3h-1zM46 339h1v5h-1zM47 343h1v4h-1zM48 346h1v7h-1zM49 352h1v4h-1zM50 354h1v4h-1zM51 355h1v4h-1zM52 354h1v3h-1zM53 352h1v3h-1zM54 352h1v5h-1zM55 356h1v2h-1zM56 356h1v3h-1zM57 355h1v2h-1zM58 355h1v5h-1zM59 356h1v4h-1zM60 353h1v4h-1zM61 350h1v4h-1zM62 349h1v2h-1zM63 347h1v3h-1zM64 345h1v4h-1zM65 345h1v2h-1zM66 342h1v4h-1zM67 340h1v3h-1zM68 338h1v4h-1zM69 334h1v5h-1zM70 334h1v3h-1zM71 331h1v4h-1zM72 328h1v4h-1zM73 328h1v2h-1zM74 329h1v4h-1zM75 332h1v5h-1zM76 333h1v4h-1zM77 331h1v3h-1zM78 330h1v3h-1zM79 328h1v3h-1zM80 328h1v2h-1zM81 327h1v2h-1zM82 326h1v3h-1zM83 326h1v8h-1zM84 333h1v3h-1zM85 333h1v3h-1zM86 329h1v5h-1zM87 328h1v3h-1zM88 327h1v2h-1zM89 327h1v5h-1zM90 331h1v4h-1zM91 334h1v5h-1zM92 338h1v6h-1zM93 343h1v3h-1zM94 345h1v5h-1zM95 349h1v12h-1zM96 360h1v3h-1zM97 359h1v3h-1zM98 361h1v9h-1zM99 369h1v4h-1zM100 372h1v6h-1zM101 377h1v6h-1zM102 376h1v7h-1zM103 372h1v5h-1zM104 368h1v5h-1zM105 365h1v4h-1zM106 361h1v5h-1zM107 361h1v4h-1zM108 364h1v2h-1zM109 361h1v4h-1zM110 362h1v3h-1zM111 364h1v3h-1zM112 365h1v4h-1zM113 364h1v3h-1zM114 361h1v4h-1zM115 360h1v4h-1zM116 363h1v1h-1zM117 363h1v4h-1zM118 366h1v2h-1zM119 366h1v3h-1zM120 365h1v3h-1zM121 363h1v4h-1zM122 361h1v4h-1zM123 361h1v2h-1zM124 362h1v3h-1zM125 362h1v4h-1zM126 359h1v4h-1zM127 359h1v3h-1zM128 359h1v4h-1zM129 359h1v2h-1zM130 357h1v3h-1zM131 354h1v4h-1zM132 353h1v3h-1zM133 350h1v4h-1zM134 349h1v3h-1zM135 349h1v2h-1zM136 350h1v4h-1zM137 350h1v3h-1zM138 348h1v3h-1zM139 348h1v2h-1zM140 347h1v4h-1zM141 346h1v2h-1zM142 342h1v5h-1zM143 338h1v5h-1zM144 335h1v5h-1zM145 335h1v2h-1zM146 336h1v6h-1zM147 341h1v3h-1zM148 343h1v3h-1zM149 343h1v3h-1zM150 342h1v2h-1zM151 343h1v2h-1zM152 339h1v5h-1zM153 339h1v2h-1zM154 339h1v6h-1zM155 343h1v4h-1zM156 346h1v2h-1zM157 345h1v2h-1zM158 346h1v4h-1zM159 348h1v3h-1zM160 349h1v3h-1zM161 347h1v3h-1zM162 347h1v2h-1zM163 346h1v3h-1zM164 347h1v2h-1zM165 346h1v2h-1zM166 346h1v4h-1zM167 348h1v3h-1zM168 350h1v2h-1zM169 350h1v3h-1zM170 347h1v5h-1zM171 347h1v3h-1zM172 347h1v4h-1zM173 345h1v4h-1zM174 343h1v3h-1zM175 343h1v3h-1zM176 345h1v2h-1zM177 344h1v3h-1zM178 346h1v3h-1zM179 346h1v2h-1zM180 344h1v4h-1zM181 342h1v4h-1zM182 340h1v3h-1zM183 337h1v4h-1zM184 337h1v3h-1zM185 339h1v5h-1zM186 342h1v5h-1zM187 343h1v4h-1zM188 343h1v4h-1zM189 344h1v3h-1zM190 338h1v7h-1zM191 338h1v2h-1zM192 338h1v4h-1zM193 340h1v3h-1zM194 339h1v2h-1zM195 338h1v3h-1zM196 338h1v2h-1zM197 339h1v5h-1zM198 342h1v2h-1zM199 342h1v3h-1zM200 341h1v3h-1zM201 339h1v3h-1zM202 339h1v1h-1zM203 337h1v3h-1zM204 336h1v3h-1zM205 333h1v4h-1zM206 332h1v2h-1zM207 332h1v3h-1zM208 333h1v3h-1zM209 332h1v2h-1zM210 333h1v3h-1zM211 335h1v5h-1zM212 337h1v3h-1zM213 337h1v7h-1zM214 340h1v4h-1zM215 339h1v3h-1zM216 341h1v5h-1zM217 343h1v3h-1zM218 339h1v5h-1zM219 337h1v4h-1zM220 338h1v4h-1zM221 341h1v3h-1zM222 343h1v5h-1zM223 346h1v4h-1zM224 349h1v3h-1zM225 350h1v2h-1zM226 351h1v2h-1zM227 350h1v3h-1zM228 351h1v6h-1zM229 354h1v4h-1zM230 352h1v4h-1zM231 350h1v3h-1zM232 349h1v2h-1zM233 347h1v4h-1zM234 347h1v2h-1zM235 347h1v2h-1zM236 347h1v2h-1zM237 348h1v2h-1zM238 348h1v8h-1zM239 355h1v8h-1zM240 362h1v7h-1zM241 360h1v7h-1zM242 358h1v3h-1zM243 358h1v5h-1zM244 355h1v4h-1zM245 355h1v2h-1zM246 355h1v2h-1zM247 355h1v4h-1zM248 354h1v3h-1zM249 352h1v3h-1zM250 349h1v4h-1zM251 349h1v3h-1zM252 349h1v3h-1zM253 349h1v2h-1zM254 349h1v2h-1zM255 349h1v3h-1zM256 348h1v2h-1zM257 348h1v4h-1zM258 351h1v3h-1zM259 352h1v3h-1zM260 351h1v3h-1zM261 350h1v3h-1zM262 350h1v2h-1zM263 351h1v3h-1zM264 352h1v2h-1zM265 352h1v5h-1zM266 356h1v9h-1zM267 364h1v7h-1zM268 370h1v11h-1zM269 379h1v5h-1zM270 371h1v9h-1zM271 367h1v5h-1zM272 364h1v4h-1zM273 364h1v2h-1zM274 365h1v2h-1zM275 364h1v3h-1zM276 361h1v4h-1zM277 360h1v2h-1zM278 358h1v3h-1zM279 358h1v3h-1zM280 356h1v3h-1zM281 357h1v4h-1zM282 360h1v4h-1zM283 357h1v7h-1zM284 353h1v5h-1zM285 353h1v2h-1zM286 354h1v3h-1zM287 353h1v3h-1zM288 352h1v2h-1zM289 351h1v2h-1zM290 352h1v2h-1zM291 352h1v3h-1zM292 351h1v2h-1zM293 352h1v3h-1zM294 350h1v5h-1zM295 350h1v1h-1zM296 349h1v2h-1zM297 348h1v2h-1zM298 347h1v2h-1zM299 347h1v2h-1zM300 346h1v2h-1zM301 344h1v3h-1zM302 344h1v2h-1zM303 344h1v4h-1zM304 345h1v3h-1zM305 346h1v2h-1zM306 346h1v3h-1zM307 348h1v4h-1zM308 351h1v4h-1zM309 353h1v4h-1zM310 356h1v7h-1zM311 362h1v6h-1zM312 366h1v3h-1zM313 365h1v2h-1zM314 366h1v7h-1zM315 372h1v3h-1zM316 374h1v10h-1zM317 381h1v2h-1zM318 380h1v2h-1zM319 379h1v4h-1zM320 376h1v5h-1zM321 374h1v3h-1zM322 374h1v9h-1zM323 379h1v4h-1zM324 379h1v6h-1zM325 384h1v5h-1zM326 388h1v6h-1zM327 393h1v3h-1zM328 395h1v3h-1zM329 386h1v10h-1zM330 382h1v5h-1zM331 380h1v3h-1zM332 377h1v4h-1zM333 376h1v2h-1zM334 376h1v2h-1zM335 374h1v3h-1zM336 373h1v2h-1zM337 372h1v3h-1zM338 372h1v3h-1zM339 374h1v3h-1zM340 376h1v2h-1zM341 371h1v7h-1zM342 369h1v3h-1zM343 369h1v2h-1zM344 370h1v3h-1zM345 370h1v2h-1zM346 370h1v4h-1zM347 372h1v3h-1zM348 371h1v3h-1zM349 371h1v6h-1zM350 371h1v4h-1zM351 372h1v6h-1zM352 366h1v13h-1zM353 365h1v2h-1zM354 366h1v6h-1zM355 361h1v8h-1zM356 357h1v5h-1zM357 350h1v8h-1zM358 346h1v5h-1zM359 343h1v4h-1zM360 341h1v3h-1zM361 340h1v2h-1zM362 340h1v2h-1zM363 336h1v5h-1zM364 333h1v4h-1zM365 331h1v3h-1zM366 329h1v3h-1zM367 329h1v4h-1zM368 330h1v3h-1zM369 329h1v4h-1zM370 327h1v3h-1zM371 324h1v4h-1zM372 323h1v2h-1zM373 324h1v4h-1zM374 321h1v7h-1zM375 317h1v5h-1zM376 315h1v3h-1zM377 315h1v4h-1zM378 310h1v7h-1zM379 310h1v4h-1zM380 313h1v7h-1zM381 313h1v7h-1zM382 314h1v11h-1zM383 323h1v4h-1zM384 324h1v2h-1zM385 318h1v7h-1zM386 314h1v5h-1zM387 314h1v7h-1zM388 314h1v7h-1zM389 311h1v5h-1zM390 315h1v7h-1zM391 321h1v5h-1zM392 321h1v6h-1zM393 319h1v3h-1zM394 318h1v4h-1zM395 321h1v5h-1zM396 324h1v2h-1zM397 322h1v4h-1zM398 321h1v3h-1zM399 321h1v2h-1zM400 321h1v2h-1zM401 322h1v2h-1zM402 321h1v3h-1zM403 321h1v5h-1zM404 323h1v3h-1zM405 322h1v4h-1zM406 325h1v3h-1zM407 325h1v3h-1zM408 327h1v6h-1zM409 332h1v7h-1zM410 338h1v4h-1zM411 336h1v6h-1zM412 330h1v7h-1zM413 331h1v3h-1zM414 332h1v2h-1zM415 330h1v4h-1zM416 330h1v8h-1zM417 337h1v10h-1zM418 345h1v4h-1zM419 342h1v4h-1zM420 340h1v3h-1zM421 339h1v2h-1zM422 339h1v2h-1zM423 337h1v4h-1zM424 337h1v3h-1zM425 337h1v3h-1zM426 337h1v3h-1zM427 338h1v4h-1zM428 341h1v4h-1zM429 342h1v3h-1zM430 342h1v4h-1zM431 345h1v4h-1zM432 347h1v4h-1zM433 347h1v4h-1zM434 347h1v2h-1zM435 346h1v3h-1zM436 344h1v3h-1zM437 344h1v2h-1zM438 344h1v3h-1zM439 344h1v2h-1zM440 342h1v4h-1zM441 342h1v2h-1zM442 342h1v4h-1zM443 345h1v6h-1zM444 347h1v4h-1zM445 345h1v4h-1zM446 343h1v4h-1zM447 342h1v3h-1zM448 339h1v4h-1zM449 339h1v3h-1zM450 340h1v2h-1zM451 340h1v2h-1zM452 339h1v3h-1zM453 339h1v3h-1zM454 339h1v3h-1zM455 338h1v3h-1zM456 337h1v3h-1zM457 337h1v3h-1zM458 338h1v2h-1zM459 335h1v4h-1zM460 332h1v4h-1zM461 332h1v2h-1zM462 333h1v3h-1zM463 334h1v3h-1zM464 333h1v4h-1zM465 333h1v4h-1zM466 336h1v5h-1zM467 339h1v2h-1zM468 338h1v3h-1zM469 337h1v2h-1zM470 337h1v2h-1zM471 338h1v5h-1zM472 342h1v4h-1zM473 345h1v2h-1zM474 344h1v2h-1zM475 341h1v4h-1zM476 338h1v4h-1zM477 336h1v3h-1zM478 336h1v3h-1zM479 334h1v5h-1zM480 332h1v3h-1zM481 331h1v3h-1zM482 332h1v2h-1zM483 330h1v3h-1zM484 329h1v2h-1zM485 329h1v2h-1zM486 327h1v3h-1zM487 326h1v2h-1zM488 324h1v3h-1zM489 323h1v4h-1zM490 326h1v4h-1zM491 329h1v2h-1zM492 329h1v3h-1zM493 329h1v3h-1zM494 326h1v4h-1zM495 327h1v2h-1zM496 328h1v2h-1zM497 328h1v2h-1zM498 326h1v3h-1zM499 328h1v8h-1zM500 335h1v3h-1zM501 337h1v6h-1zM502 338h1v3h-1zM503 337h1v3h-1zM504 336h1v3h-1zM505 334h1v3h-1zM506 333h1v4h-1zM507 333h1v4h-1zM508 334h1v3h-1zM509 334h1v2h-1zM510 332h1v4h-1zM511 333h1v2h-1zM512 333h1v2h-1zM513 331h1v4h-1zM514 329h1v3h-1zM515 325h1v5h-1zM516 322h1v4h-1zM517 322h1v2h-1zM518 323h1v2h-1zM519 323h1v2h-1zM520 323h1v2h-1zM521 322h1v2h-1zM522 322h1v4h-1zM523 324h1v3h-1zM524 321h1v5h-1zM525 321h1v5h-1zM526 324h1v3h-1zM527 323h1v4h-1zM528 326h1v4h-1zM529 326h1v3h-1zM530 324h1v3h-1zM531 323h1v3h-1zM532 321h1v3h-1zM533 323h1v15h-1zM534 337h1v11h-1zM535 340h1v7h-1zM536 342h1v10h-1zM537 351h1v7h-1zM538 357h1v6h-1zM539 353h1v5h-1zM540 350h1v4h-1zM541 347h1v5h-1zM542 347h1v9h-1zM543 355h1v5h-1zM544 350h1v6h-1zM545 349h1v2h-1zM546 349h1v3h-1zM547 347h1v4h-1zM548 347h1v3h-1zM549 349h1v3h-1zM550 348h1v3h-1zM551 345h1v4h-1zM552 347h1v3h-1zM553 344h1v4h-1zM554 344h1v2h-1zM555 341h1v5h-1zM556 340h1v3h-1zM557 341h1v3h-1zM558 341h1v3h-1zM559 341h1v2h-1zM560 341h1v3h-1zM561 339h1v5h-1zM562 339h1v3h-1zM563 340h1v3h-1zM564 342h1v4h-1zM565 340h1v6h-1zM566 336h1v5h-1zM567 334h1v4h-1zM568 335h1v1h-1zM569 333h1v3h-1zM570 332h1v2h-1zM571 332h1v2h-1zM572 331h1v3h-1zM573 329h1v3h-1zM574 327h1v3h-1zM575 327h1v2h-1zM576 325h1v3h-1zM577 323h1v3h-1zM578 323h1v11h-1zM579 333h1v6h-1zM580 337h1v2h-1zM581 333h1v5h-1zM582 329h1v5h-1zM583 327h1v3h-1zM584 324h1v4h-1zM585 323h1v3h-1zM586 323h1v3h-1zM587 323h1v4h-1zM588 324h1v4h-1zM589 325h1v3h-1zM590 324h1v5h-1zM591 326h1v3h-1zM592 325h1v3h-1zM593 327h1v5h-1zM594 331h1v3h-1zM595 329h1v4h-1zM596 329h1v5h-1zM597 331h1v5h-1zM598 327h1v5h-1zM599 327h1v7h-1zM600 333h1v4h-1zM601 336h1v6h-1zM602 341h1v6h-1zM603 346h1v6h-1zM604 351h1v9h-1zM605 352h1v8h-1zM606 350h1v3h-1zM607 347h1v7h-1zM608 350h1v5h-1z"/>
<g stroke="#000" stroke-width="1" shape-rendering="crispEdges"><line x1="621.5" y1="0" x2="621.5" y2="406"/><line x1="0" y1="405.5" x2="622" y2="405.5"/><line x1="2.5" y1="405" x2="2.5" y2="420"/><line x1="58.5" y1="405" x2="58.5" y2="420"/><line x1="115.5" y1="405" x2="115.5" y2="420"/><line x1="171.5" y1="405" x2="171.5" y2="420"/><line x1="228.5" y1="405" x2="228.5" y2="420"/><line x1="285.5" y1="405" x2="285.5" y2="420"/><line x1="341.5" y1="405" x2="341.5" y2="420"/><line x1="398.5" y1="405" x2="398.5" y2="420"/><line x1="455.5" y1="405" x2="455.5" y2="420"/><line x1="513.5" y1="405" x2="513.5" y2="420"/><line x1="570.5" y1="405" x2="570.5" y2="420"/><line x1="621" y1="2.5" x2="629" y2="2.5"/><line x1="621" y1="17.5" x2="629" y2="17.5"/><line x1="621" y1="32.5" x2="629" y2="32.5"/><line x1="621" y1="48.5" x2="629" y2="48.5"/><line x1="621" y1="66.5" x2="629" y2="66.5"/><line x1="621" y1="86.5" x2="629" y2="86.5"/><line x1="621" y1="110.5" x2="629" y2="110.5"/><line x1="621" y1="136.5" x2="629" y2="136.5"/><line x1="621" y1="168.5" x2="629" y2="168.5"/><line x1="621" y1="206.5" x2="629" y2="206.5"/><line x1="621" y1="255.5" x2="629" y2="255.5"/><line x1="621" y1="10.5" x2="625" y2="10.5"/><line x1="621" y1="23.5" x2="625" y2="23.5"/><line x1="621" y1="40.5" x2="625" y2="40.5"/><line x1="621" y1="57.5" x2="625" y2="57.5"/><line x1="621" y1="77.5" x2="625" y2="77.5"/><line x1="621" y1="98.5" x2="625" y2="98.5"/><line x1="621" y1="122.5" x2="625" y2="122.5"/><line x1="621" y1="151.5" x2="625" y2="151.5"/><line x1="621" y1="185.5" x2="625" y2="185.5"/><line x1="621" y1="229.5" x2="625" y2="229.5"/><line x1="621" y1="286.5" x2="625" y2="286.5"/><line x1="621" y1="308.5" x2="629" y2="308.5"/><line x1="621" y1="323.5" x2="629" y2="323.5"/><line x1="621" y1="337.5" x2="629" y2="337.5"/><line x1="621" y1="351.5" x2="629" y2="351.5"/><line x1="621" y1="366.5" x2="629" y2="366.5"/><line x1="621" y1="380.5" x2="629" y2="380.5"/><line x1="621" y1="395.5" x2="629" y2="395.5"/><line x1="621" y1="315.5" x2="625" y2="315.5"/><line x1="621" y1="330.5" x2="625" y2="330.5"/><line x1="621" y1="344.5" x2="625" y2="344.5"/><line x1="621" y1="359.5" x2="625" y2="359.5"/><line x1="621" y1="373.5" x2="625" y2="373.5"/><line x1="621" y1="388.5" x2="625" y2="388.5"/><line x1="621" y1="402.5" x2="625" y2="402.5"/></g>
<text class="ax" x="665.5" y="23" text-anchor="end">12000</text>
<text class="ax" x="665.5" y="38" text-anchor="end">11000</text>
<text class="ax" x="665.5" y="54" text-anchor="end">10000</text>
<text class="ax" x="665.5" y="72" text-anchor="end">9000</text>
<text class="ax" x="665.5" y="92" text-anchor="end">8000</text>
<text class="ax" x="665.5" y="116" text-anchor="end">7000</text>
<text class="ax" x="665.5" y="142" text-anchor="end">6000</text>
<text class="ax" x="665.5" y="174" text-anchor="end">5000</text>
<text class="ax" x="665.5" y="212" text-anchor="end">4000</text>
<text class="ax" x="665.5" y="261" text-anchor="end">3000</text>
<text class="ax" x="665.5" y="329" text-anchor="end">20</text>
<text class="ax" x="665.5" y="343" text-anchor="end">10</text>
<text class="ax" x="665.5" y="357" text-anchor="end">0</text>
<text class="ax" x="665.5" y="372" text-anchor="end">-10</text>
<text class="ax" x="665.5" y="386" text-anchor="end">-20</text>
<text class="ax" x="665.5" y="401" text-anchor="end">-30</text>
<text class="yr" x="4.5" y="418" textLength="25.7" lengthAdjust="spacingAndGlyphs">1997</text>
<text class="yr" x="60.5" y="418" textLength="25.7" lengthAdjust="spacingAndGlyphs">1998</text>
<text class="yr" x="117.5" y="418" textLength="25.7" lengthAdjust="spacingAndGlyphs">1999</text>
<text class="yr" x="173.5" y="418" textLength="25.7" lengthAdjust="spacingAndGlyphs">2000</text>
<text class="yr" x="230.5" y="418" textLength="25.7" lengthAdjust="spacingAndGlyphs">2001</text>
<text class="yr" x="287.5" y="418" textLength="25.7" lengthAdjust="spacingAndGlyphs">2002</text>
<text class="yr" x="343.5" y="418" textLength="25.7" lengthAdjust="spacingAndGlyphs">2003</text>
<text class="yr" x="400.5" y="418" textLength="25.7" lengthAdjust="spacingAndGlyphs">2004</text>
<text class="yr" x="457.5" y="418" textLength="25.7" lengthAdjust="spacingAndGlyphs">2005</text>
<text class="yr" x="515.5" y="418" textLength="25.7" lengthAdjust="spacingAndGlyphs">2006</text>
<text class="yr" x="572.5" y="418" textLength="25.7" lengthAdjust="spacingAndGlyphs">2007</text>
<text x="285.7" y="23" style="font-size:16px" textLength="47" lengthAdjust="spacingAndGlyphs">MDAX</text>
<text class="sm" x="499.5" y="290" textLength="93" lengthAdjust="spacingAndGlyphs">Hoppenstedt Charts</text>
<text class="sm" x="170.5" y="324" textLength="192" lengthAdjust="spacingAndGlyphs">Prozentualer Abstand zur 200-Tage-Linie</text>
</svg></body></html>
